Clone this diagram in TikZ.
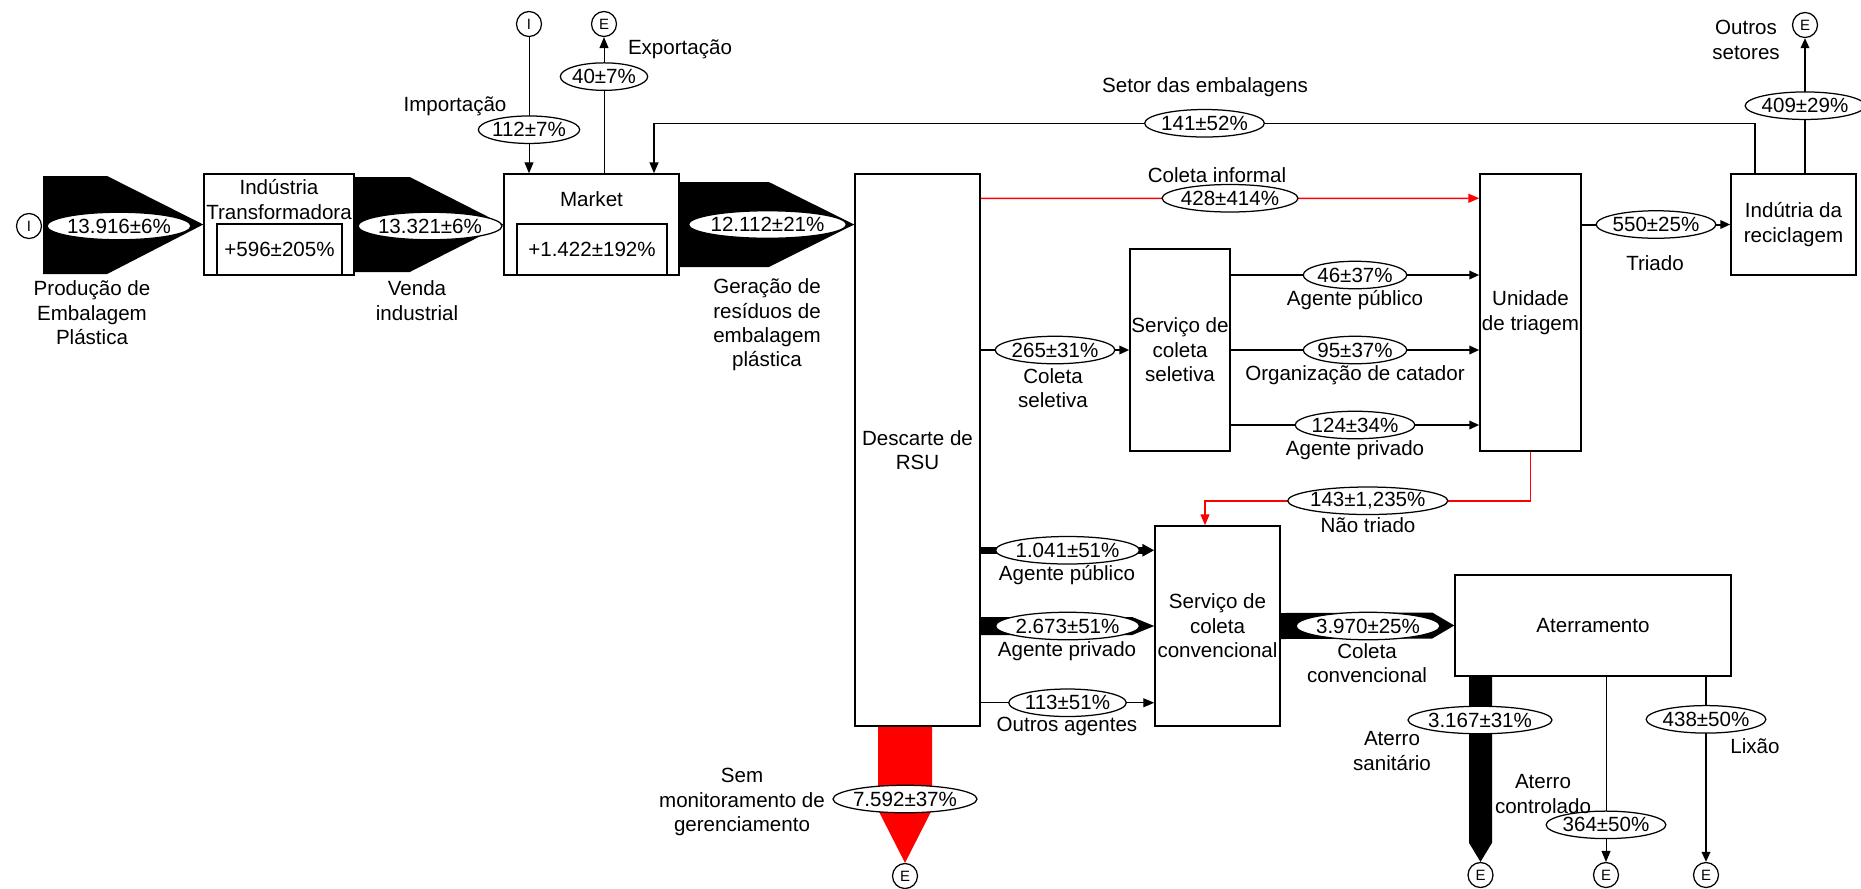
\documentclass[tikz,border=0pt]{standalone}
\usepackage{fontspec}
\setmainfont{Liberation Sans}
\usepackage{tikz}
\usetikzlibrary{shapes.geometric,arrows.meta,calc}

\tikzset{
  box/.style={draw, fill=white, line width=0.3mm, inner sep=0pt, align=center},
  val/.style={ellipse, draw=black, text=black, fill=white, line width=0.25mm, inner xsep=-0.6pt, inner ysep=0pt, minimum height=5.5mm},
  lbl/.style={align=center, inner sep=0pt},
  term/.style={circle, draw, fill=white, line width=0.25mm, minimum size=5mm, inner sep=0pt, font=\fontsize{8.5}{9}\selectfont},
  flow/.style={line width=0.4mm, -{Triangle[length=2mm,width=1.7mm]}},
  thinflow/.style={line width=0.2mm, -{Triangle[length=2.2mm,width=1.8mm]}},
  redflow/.style={red, line width=0.3mm, -{Triangle[length=2.2mm,width=1.8mm]}},
}

\begin{document}
\begin{tikzpicture}[x=0.2mm, y=-0.2mm, every node/.append style={font=\fontsize{11.7}{13.9}\selectfont}]
\useasboundingbox (0,0) rectangle (1861,888);

% Step 1: process boxes
\node[box, minimum width=30mm, minimum height=20.2mm] (ind) at (279,224.5) {};
\node[box, minimum width=25mm, minimum height=10.2mm] (indV) at (279.5,249.5) {+596±205\%};
\node[lbl] (indT) at (279,199.5) {Indústria\\Transformadora};

\node[box, minimum width=35mm, minimum height=20.2mm] (mkt) at (591.5,224.5) {};
\node[box, minimum width=30mm, minimum height=10.2mm] (mktV) at (592,249.5) {+1.422±192\%};
\node[lbl] (mktT) at (591.5,199) {Market};

\node[box, minimum width=25mm, minimum height=110.4mm] (desc) at (917.5,450) {Descarte de\\RSU};
\node[box, minimum width=20mm, minimum height=40.4mm] (sel) at (1180,350) {Serviço de\\coleta\\seletiva};
\node[box, minimum width=20.2mm, minimum height=55.4mm] (uni) at (1530.5,312.5) {Unidade\\de triagem};
\node[box, minimum width=25mm, minimum height=20.2mm] (rec) at (1793.5,224.5) {Indútria da\\reciclagem};
\node[box, minimum width=25mm, minimum height=40mm] (conv) at (1217.5,626) {Serviço de\\coleta\\convencional};
\node[box, minimum width=55.2mm, minimum height=20.2mm] (ater) at (1593,625.5) {Aterramento};

% Step 2: import / export terminals
\node[term] (srcI) at (29,226) {I};
\node[term] (impI) at (529,24) {I};
\node[term] (expE) at (604,24) {E};
\node[term] (recE) at (1805,25) {E};
\node[term] (semE) at (905,876) {E};
\foreach \nm/\xx in {sanE/1480.5, conE/1606, lixE/1706} {
  \node[term] (\nm) at (\xx,875) {E};
}

% Step 3: main chain (fat flows)
\fill ($(srcI.east)+(1,-50)$) -- ++(64,0) -- (ind.west) -- ($(srcI.east)+(65,48)$) -- ++(-64,0) -- cycle;
\node[val] (vProd) at (119,226) {13.916±6\%};
\node[lbl] (lProd) at (92,313) {Produção de\\Embalagem\\Plástica};

\fill ($(ind.east)+(0,-47.5)$) -- ++(55,0) -- (mkt.west) -- ($(ind.east)+(55,47.5)$) -- ++(-55,0) -- cycle;
\node[val] (vVenda) at (430,226) {13.321±6\%};
\node[lbl] (lVenda) at (417,300.5) {Venda\\industrial};

\fill ($(mkt.east)+(0,-42.5)$) -- ++(89,0) -- (desc.west |- mkt.east) -- ($(mkt.east)+(89,42.5)$) -- ++(-89,0) -- cycle;
\node[val] (vGer) at (767.5,224.5) {12.112±21\%};
\node[lbl] (lGer) at (767,325) {Geração de\\resíduos de\\embalagem\\plástica};

% import and export of the market
\draw[thinflow] (impI) -- (impI |- mkt.north) node[pos=0.68, val] (vImp) {112±7\%};
\node[lbl] (lImp) at (455,106) {Importação};
\draw[thinflow] (expE |- mkt.north) -- (expE) node[pos=0.71, val] (vExp) {40±7\%};
\node[lbl] (lExp) at (680,49) {Exportação};

% recycled material back to the market
\draw[thinflow, line width=0.3mm] ($(rec.north)+(-38.5,0)$) -- ++(0,-50) -| ($(mkt.north)+(62.5,0)$) node[pos=0.25, val] (vSetor) {141±52\%};
\node[lbl] (lSetor) at (1205,87) {Setor das embalagens};

% Step 4: collection of the waste
\draw[redflow] ($(desc.north east)+(0,25)$) -- ($(uni.north west)+(0,25)$) node[midway, val] (vInf) {428±414\%};
\node[lbl] (lInf) at (1217,175) {Coleta informal};

\draw[flow] (desc.east |- sel.west) -- (sel.west) node[midway, val] (vSel) {265±31\%};
\node[lbl] (lSel) at (1053,388) {Coleta\\seletiva};

\foreach \dy/\num/\txt [count=\k] in {-75/46±37\%/Agente público, 0/95±37\%/Organização de catador, 75/124±34\%/Agente privado} {
  \draw[flow] ($(sel.east)+(0,\dy)$) -- ($(uni.west |- sel.east)+(0,\dy)$) node[midway, val] (vS\k) {\num};
  \node[lbl] (lS\k) at ($(vS\k)+(0,25.5)$) {\txt};
}

\draw[flow] (uni.east |- rec.west) -- (rec.west) node[midway, val] (vTri) {550±25\%};
\node[lbl] (lTri) at (1655,263) {Triado};

\draw[flow] (recE |- rec.north) -- (recE) node[midway, val] (vOut) {409±29\%};
\node[lbl] (lOut) at (1746,40) {Outros\\setores};

\draw[redflow] (uni.south) -- ++(0,49) -| ($(conv.north)+(-12.5,0)$) node[pos=0.25, val] (vNao) {143±1,235\%};
\node[lbl] (lNao) at (1368,525) {Não triado};

% conventional collection
\coordinate (cPub) at ($(conv.north west)+(0,25)$);
\coordinate (cOut) at ($(conv.south west)+(0,-24)$);
\draw[line width=1.4mm, -{Triangle[length=2.4mm,width=2.4mm]}] (desc.east |- cPub) -- (cPub) node[midway, val] (vPub) {1.041±51\%};
\node[lbl] (lPub) at (1067,575) {Agente público};

\fill ($(desc.east |- conv.west)+(0,-9)$) -- ($(conv.west)+(-22,-9)$) -- (conv.west) -- ($(conv.west)+(-22,9)$) -- ($(desc.east |- conv.west)+(0,9)$) -- cycle;
\node[val] (vPriv) at ($(desc.east |- conv.west)!0.5!(conv.west)$) {2.673±51\%};
\node[lbl] (lPriv) at (1067,651) {Agente privado};

\draw[thinflow] (desc.east |- cOut) -- (cOut) node[midway, val] (vOutA) {113±51\%};
\node[lbl] (lOutA) at (1067,726) {Outros agentes};

\fill ($(conv.east)+(0,-13)$) -- ($(ater.west)+(-22,-13)$) -- (ater.west) -- ($(ater.west)+(-22,13)$) -- ($(conv.east)+(0,13)$) -- cycle;
\node[val] (vConv) at (1368,626) {3.970±25\%};
\node[lbl] (lConv) at (1367,663) {Coleta\\convencional};

% Step 5: final destinations
\fill[red] ($(semE |- desc.south)+(-27,0)$) -- ++(54,0) -- ++(0,83) -- (semE.north) -- ($(semE |- desc.south)+(-27,83)$) -- cycle;
\node[val] (vSem) at (905,799) {7.592±37\%};
\node[lbl] (lSem) at (742,802) {Sem\\monitoramento de\\gerenciamento};

\fill ($(sanE |- ater.south)+(-11.5,0)$) -- ++(23,0) -- ($(sanE.north)+(11.5,-19)$) -- (sanE.north) -- ($(sanE.north)+(-11.5,-19)$) -- cycle;
\node[val] (vSan) at (1480,720) {3.167±31\%};
\node[lbl] (lSan) at (1392,751) {Aterro\\sanitário};

\draw[thinflow] (conE |- ater.south) -- (conE) node[pos=0.8, val] (vCon) {364±50\%};
\node[lbl] (lCon) at (1543,794) {Aterro\\controlado};

\draw[flow] (lixE |- ater.south) -- (lixE) node[pos=0.23, val] (vLix) {438±50\%};
\node[lbl] (lLix) at (1755,746) {Lixão};
\end{tikzpicture}
\end{document}
